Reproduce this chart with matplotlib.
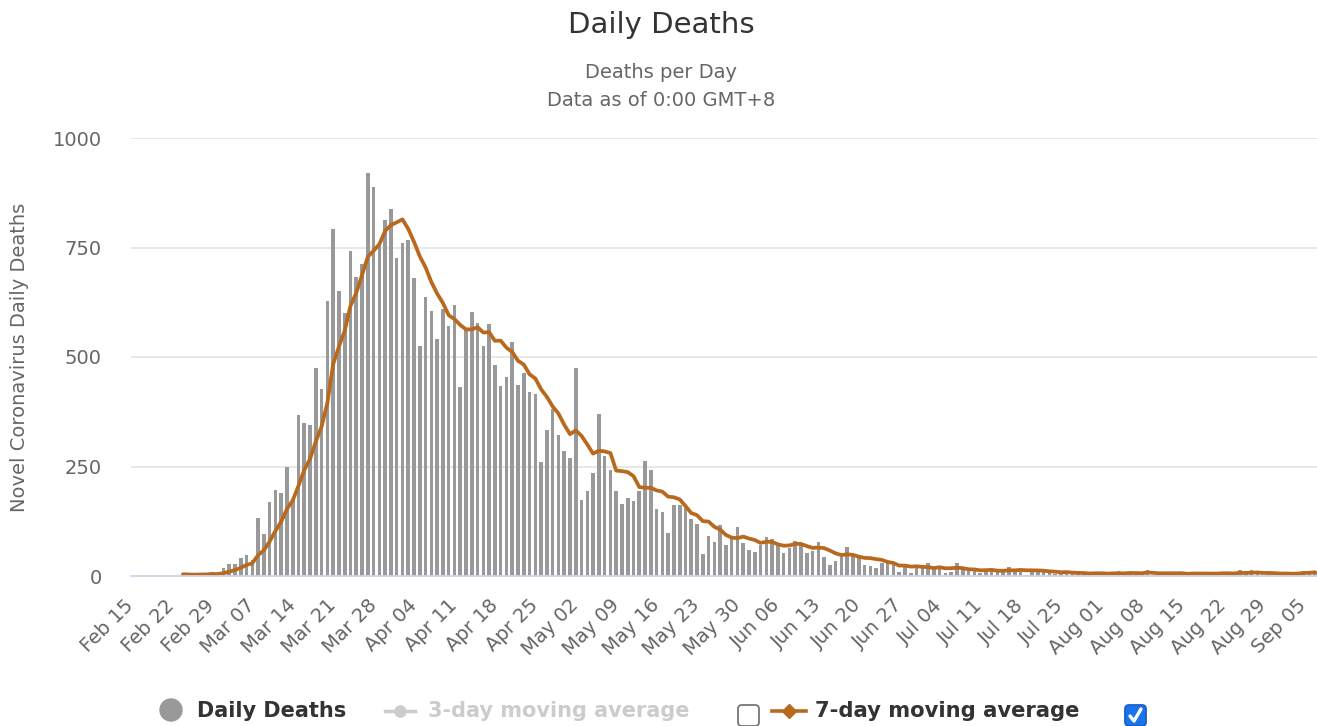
import pandas as pd
import matplotlib.pyplot as plt
import matplotlib.dates as mdates
from matplotlib.patches import FancyBboxPatch, Circle
import numpy as np

plt.rcParams['font.family'] = ['DejaVu Sans']

# daily deaths, first value is Feb 24
feb = [4, 3, 2, 5, 4, 8]
mar = [5, 18, 27, 28, 41, 49, 36, 133, 97, 168, 196, 189, 250, 175, 368, 349,
       345, 475, 427, 627, 793, 651, 601, 743, 683, 712, 919, 889, 756, 812, 837]
apr = [727, 760, 766, 681, 525, 636, 604, 542, 610, 570, 619, 431, 566, 602, 578,
       525, 575, 482, 433, 454, 534, 437, 464, 420, 415, 260, 333, 382, 323, 285]
may = [269, 474, 174, 195, 236, 369, 274, 243, 194, 165, 179, 172, 195, 262, 242,
       153, 145, 99, 162, 161, 156, 130, 119, 50, 92, 78, 117, 70, 87, 111, 75]
jun = [60, 55, 71, 88, 85, 72, 53, 65, 79, 71, 53, 56, 78, 44, 26, 34, 43, 66,
       47, 49, 24, 23, 18, 30, 34, 30, 8, 24, 6, 23]
jul = [21, 30, 15, 21, 7, 8, 30, 15, 12, 12, 7, 9, 13, 17, 13, 20, 11, 14, 3,
       13, 15, 9, 10, 5, 5, 5, 5, 11, 6, 3, 9]
aug = [5, 0, 8, 12, 5, 10, 6, 3, 13, 2, 4, 6, 10, 6, 3, 4, 7, 4, 6, 9, 5, 9, 4,
       4, 13, 5, 13, 9, 1, 4, 1]
sep = [6, 6, 10, 10, 11, 7, 10]

daily = feb + mar + apr + may + jun + jul + aug + sep
dates = pd.date_range("2020-02-24", periods=len(daily), freq="D")
avg7 = pd.Series(daily).rolling(7, min_periods=1).mean()

tick_dates = pd.date_range("2020-02-15", "2020-09-05", freq="7D")
y_ticks = [0, 250, 500, 750, 1000]

bar_color = "#999999"
line_color = "#b8691e"
text_dark = "#333333"
text_grey = "#666666"

W, H = 1317, 726
fig = plt.figure(figsize=(W / 100, H / 100), dpi=100)
ax = fig.add_axes([131 / W, 150 / H, (W - 131) / W, 438 / H])

ax.bar(dates, daily, width=0.62, color=bar_color, zorder=2)
ax.plot(dates, avg7, color=line_color, lw=2.7, zorder=3, solid_capstyle="round")

ax.set_ylim(0, 1000)
ax.set_xlim(pd.Timestamp("2020-02-15"), pd.Timestamp("2020-09-07 08:00"))
ax.set_yticks(y_ticks)
ax.set_yticklabels([str(v) for v in y_ticks])
ax.set_xticks(tick_dates)
ax.xaxis.set_major_formatter(mdates.DateFormatter("%b %d"))
ax.grid(axis="y", color="#e6e6e6", lw=1.3, zorder=0)
ax.set_axisbelow(True)
for s in ["top", "right", "left"]:
    ax.spines[s].set_visible(False)
ax.spines["bottom"].set_color("#ccd6eb")
ax.spines["bottom"].set_linewidth(1.3)
ax.spines["bottom"].set_zorder(4)

ax.tick_params(axis="y", length=0, pad=21, labelsize=14, labelcolor=text_grey)
ax.tick_params(axis="x", length=0, pad=19, labelsize=14, labelcolor=text_grey)
for lab in ax.get_xticklabels():
    lab.set_rotation(45)
    lab.set_ha("right")
    lab.set_va("center")
    lab.set_rotation_mode("anchor")

ax.set_ylabel("Novel Coronavirus Daily Deaths", fontsize=14, color=text_grey)
ax.yaxis.set_label_coords(-0.086, 0.5)

fig.text(0.502, 1 - 25 / H, "Daily Deaths", ha="center", va="center",
         fontsize=21, color=text_dark)
fig.text(0.502, 1 - 72 / H, "Deaths per Day", ha="center", va="center",
         fontsize=14, color=text_grey)
fig.text(0.502, 1 - 100 / H, "Data as of 0:00 GMT+8", ha="center", va="center",
         fontsize=14, color=text_grey)

# legend drawn in pixel coordinates
lg = fig.add_axes([0, 0, 1, 1], zorder=5)
lg.set_xlim(0, W)
lg.set_ylim(H, 0)
lg.axis("off")
ly = 711

lg.add_patch(Circle((171, ly - 1), 11, color=bar_color))
lg.text(197, ly, "Daily Deaths", fontsize=15, fontweight="bold",
        color=text_dark, va="center")

lg.plot([385, 415], [ly, ly], color="#cccccc", lw=2.5)
lg.plot([400], [ly], marker="o", ms=8, color="#cccccc")
lg.text(428, ly, "3-day moving average", fontsize=15, fontweight="bold",
        color="#cccccc", va="center")
lg.add_patch(FancyBboxPatch((738, 705), 21, 21, boxstyle="round,pad=0,rounding_size=4",
                            fc="white", ec="#767676", lw=1.3))

lg.plot([772, 806], [ly, ly], color=line_color, lw=2.6)
lg.plot([789], [ly], marker="D", ms=7, color=line_color)
lg.text(815, ly, "7-day moving average", fontsize=15.2, fontweight="bold",
        color=text_dark, va="center")
lg.add_patch(FancyBboxPatch((1125, 705), 21, 21, boxstyle="round,pad=0,rounding_size=4",
                            fc="#1a73e8", ec="#1a5fc8", lw=1.3))
lg.plot([1130, 1134, 1141], [716, 721, 709], color="white", lw=2.4,
        solid_capstyle="round", solid_joinstyle="round")

fig.savefig("out.png", dpi=100)
